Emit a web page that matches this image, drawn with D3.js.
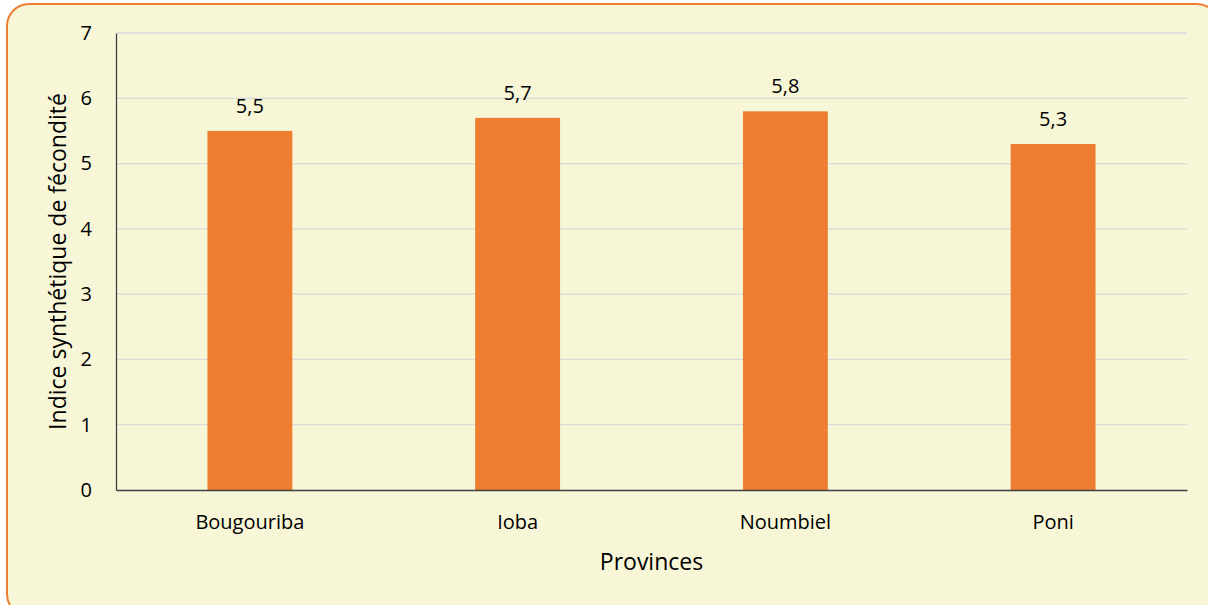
<!DOCTYPE html>
<html>
    <head>
        <style>
            body { margin: 0; background: #fff; }
            svg { display: block; font-family: "Open Sans", sans-serif; }
        </style>
    </head>
    <body>
        <div id="chart"></div>
        <script src="https://cdnjs.cloudflare.com/ajax/libs/d3/7.8.5/d3.min.js"></script>
    <script>
        var provinces = ["Bougouriba", "Ioba", "Noumbiel", "Poni"];
        var isf = [5.5, 5.7, 5.8, 5.3];
        var yTicks = [0, 1, 2, 3, 4, 5, 6, 7];

        (function() {
            var width = 1208,
                height = 605;
            var margin = {left: 116, right: 21, top: 33, bottom: 115};

            var svg = d3.select("#chart")
                .append("svg")
                .attr("width", width)
                .attr("height", height);

            // frame
            svg.append("rect")
                .attr("x", 7).attr("y", 4)
                .attr("width", 1212).attr("height", 612)
                .attr("rx", 22).attr("ry", 22)
                .attr("fill", "#F7F7D7")
                .attr("stroke", "#ED7D31")
                .attr("stroke-width", 2);

            var x = d3.scaleBand()
                .domain(provinces)
                .range([margin.left, width - margin.right]);
            var y = d3.scaleLinear()
                .domain([0, 7])
                .range([height - margin.bottom, margin.top]);

            var barW = x.bandwidth() * 0.317;

            // gridlines
            svg.append("g").selectAll("line")
                .data(yTicks.slice(1))
                .enter().append("line")
                .attr("x1", margin.left).attr("x2", width - margin.right)
                .attr("y1", function(d) { return y(d) })
                .attr("y2", function(d) { return y(d) })
                .attr("stroke", "#D9D9D9")
                .attr("stroke-width", 1.3);

            var data = provinces.map(function(p, i) { return {p: p, v: isf[i]} });

            svg.append("g").selectAll("rect")
                .data(data)
                .enter().append("rect")
                .attr("x", function(d) { return x(d.p) + x.bandwidth()/2 - barW/2 })
                .attr("y", function(d) { return y(d.v) })
                .attr("width", barW)
                .attr("height", function(d) { return y(0) - y(d.v) })
                .attr("fill", "#ED7D31");

            svg.append("g").selectAll("text")
                .data(data)
                .enter().append("text")
                .attr("x", function(d) { return x(d.p) + x.bandwidth()/2 })
                .attr("y", function(d) { return y(d.v) - 18 })
                .attr("text-anchor", "middle")
                .attr("font-size", 20)
                .attr("fill", "#000")
                .text(function(d) { return String(d.v).replace(".", ",") });

            // axes
            var yAxis = d3.axisLeft(y).tickValues(yTicks).tickFormat(d3.format("d"))
                .tickSize(0).tickPadding(24);
            var gy = svg.append("g")
                .attr("transform", "translate(" + margin.left + ",0)")
                .call(yAxis)
                .attr("font-size", 20)
                .attr("font-family", "Open Sans, sans-serif");
            gy.select(".domain").attr("stroke", "#404040").attr("stroke-width", 1.3);
            gy.selectAll("text").attr("fill", "#000");

            var xAxis = d3.axisBottom(x).tickSize(0).tickPadding(25);
            var gx = svg.append("g")
                .attr("transform", "translate(0," + y(0) + ")")
                .call(xAxis)
                .attr("font-size", 20)
                .attr("font-family", "Open Sans, sans-serif");
            gx.select(".domain").attr("stroke", "#404040").attr("stroke-width", 1.3);
            gx.selectAll("text").attr("fill", "#000");

            svg.append("text")
                .attr("x", (margin.left + width - margin.right) / 2)
                .attr("y", 570)
                .attr("text-anchor", "middle")
                .attr("font-size", 23)
                .text("Provinces");

            svg.append("text")
                .attr("transform", "translate(66," + ((y(0) + y(7)) / 2) + ") rotate(-90)")
                .attr("text-anchor", "middle")
                .attr("font-size", 23)
                .text("Indice synthétique de fécondité");
        })();
    </script>
    </body>
</html>
